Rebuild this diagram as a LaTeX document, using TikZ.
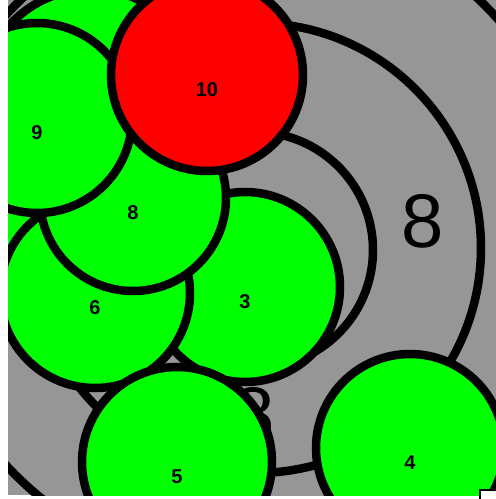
\documentclass[tikz,border=0pt]{standalone}
\usepackage{fontspec}
\setmainfont{Liberation Sans}
\definecolor{bgray}{RGB}{150,150,150}
\definecolor{lgreen}{RGB}{0,255,0}
\begin{document}
\begin{tikzpicture}[x=1pt,y=-1pt,
    ring/.style={circle,draw,line width=8.5pt,fill=bgray,inner sep=0pt},
    ball/.style={circle,draw,line width=8.5pt,fill=lgreen,inner sep=0pt,minimum size=190pt},
    num/.style={font=\fontsize{20}{20}\selectfont\bfseries,inner sep=0pt},
    bignum/.style={font=\fontsize{76}{76}\selectfont,inner sep=0pt}]
    \useasboundingbox (0,0) rectangle (496,499);
    \begin{scope}
        \clip (8,0) rectangle (496,495);
        \fill[bgray] (8,0) rectangle (496,495);
        \node[ring,minimum size=664pt] (outer) at (250,240) {};
        \node[ring,minimum size=450pt] (big) at (256,248) {};
        \node[ring,minimum size=236pt] (mid) at (255,250) {};
        \node[bignum] (l8a) at (423,221) {8};
        \node[bignum] (l8b) at (254,414) {8};
        \node[ball] (h2) at (-52,248) {};
        \node[ball,minimum size=220pt] (h1) at (91,99) {};
        \node[ball] (c3) at (245,287) {};
        \node[ball] (c6) at (95,293) {};
        \node[ball,minimum size=186pt] (c8) at (133,198) {};
        \node[ball] (c9) at (37,118) {};
        \node[ball,fill=red,minimum size=192pt] (c10) at (207,75) {};
        \node[ball] (c5) at (177,462) {};
        \node[ball,minimum size=188pt] (c4) at (410,448) {};
        \foreach \c/\t in {c3/3,c6/6,c8/8,c9/9,c10/10,c5/5,c4/4}
            \node[num] (l\c) at ([yshift=-15pt]\c.center) {\t};
    \end{scope}
    \draw[line width=2.5pt,fill=white] (480,490) rectangle (500,505);
\end{tikzpicture}
\end{document}
